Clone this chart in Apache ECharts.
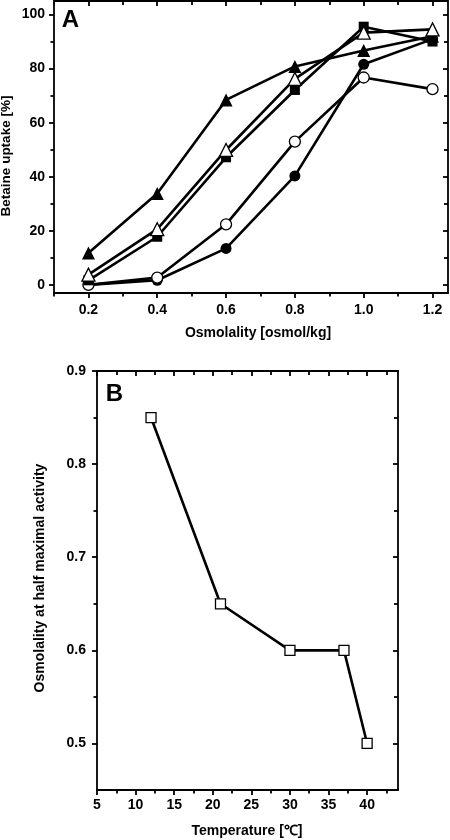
<!DOCTYPE html>
<html><head><meta charset="utf-8">
<script src="https://cdn.jsdelivr.net/npm/echarts@6/dist/echarts.min.js"></script>
<style>html,body{margin:0;padding:0;background:#fff}#c{width:450px;height:840px}</style>
</head><body><div id="c"></div>
<script>
// ---- Panel A data ----
const osmolality = [0.2, 0.4, 0.6, 0.8, 1.0, 1.2];
const filledTriangle = [11.8, 33.8, 68.4, 80.8, 86.7, 92.0];
const filledSquare = [1.7, 17.8, 47.2, 72.1, 95.5, 90.0];
const openTriangle = [3.8, 20.6, 49.9, 76.2, 93.3, 94.5];
const openCircle = [0.0, 2.7, 22.4, 53.0, 76.7, 72.4];
const filledCircle = [0.0, 1.7, 13.5, 40.3, 81.6, 90.9];
const aXMajor = [0.2, 0.4, 0.6, 0.8, 1.0, 1.2];
const aXMinor = [0.1, 0.3, 0.5, 0.7, 0.9, 1.1];
const aYMajor = [0, 20, 40, 60, 80, 100];
const aYMinor = [10, 30, 50, 70, 90];
// ---- Panel B data ----
const temperature = [12, 21, 30, 37, 40];
const halfMaxOsmolality = [0.85, 0.65, 0.60, 0.60, 0.50];
const bXMajor = [5, 10, 15, 20, 25, 30, 35, 40];
const bXMinor = [7.5, 12.5, 17.5, 22.5, 27.5, 32.5, 37.5, 42.5];
const bYMajor = [0.5, 0.6, 0.7, 0.8, 0.9];
const bYMinor = [0.55, 0.65, 0.75, 0.85];

const FONT = '"Liberation Sans", Arial, Helvetica, sans-serif';
const lineStyle = {color: '#000', width: 1.8};

function axisSet(kind, grid, min, max, major, minor, fmt, margin) {
  const isX = kind === 'x';
  const mainPos = isX ? 'bottom' : 'left';
  const oppPos = isX ? 'top' : 'right';
  const base = {type: 'value', gridIndex: grid, min: min, max: max, scale: true,
    splitLine: {show: false}};
  return [
    Object.assign({}, base, {position: mainPos,
      axisLine: {show: true, onZero: false, lineStyle: lineStyle},
      axisTick: {show: true, inside: false, length: 5, customValues: major, lineStyle: lineStyle},
      axisLabel: {show: true, customValues: major, formatter: fmt, margin: margin,
        fontFamily: FONT, fontWeight: 'bold', fontSize: 14, color: '#000'}}),
    Object.assign({}, base, {position: mainPos,
      axisLine: {show: false, onZero: false},
      axisTick: {show: true, inside: false, length: 3.5, customValues: minor, lineStyle: lineStyle},
      axisLabel: {show: false}}),
    Object.assign({}, base, {position: oppPos,
      axisLine: {show: true, onZero: false, lineStyle: lineStyle},
      axisTick: {show: true, inside: true, length: 5, customValues: major, lineStyle: lineStyle},
      axisLabel: {show: false}}),
    Object.assign({}, base, {position: oppPos,
      axisLine: {show: false, onZero: false},
      axisTick: {show: true, inside: true, length: 4, customValues: minor, lineStyle: lineStyle},
      axisLabel: {show: false}})
  ];
}

const xAxes = [].concat(
  axisSet('x', 0, 0.1, 1.245, aXMajor, aXMinor, v => v.toFixed(1), 10),
  axisSet('x', 1, 5, 44, bXMajor, bXMinor, v => String(v), 8)
);
const yAxes = [].concat(
  axisSet('y', 0, -3, 105, aYMajor, aYMinor, v => String(v), 9),
  axisSet('y', 1, 0.45, 0.9, bYMajor, bYMinor, v => v.toFixed(1), 11)
);

function mk(name, xs, ys, symbol, size, filled, xi, yi) {
  return {
    name: name, type: 'line', xAxisIndex: xi, yAxisIndex: yi,
    data: xs.map((x, i) => [x, ys[i]]),
    symbol: symbol, symbolSize: size, showAllSymbol: true,
    lineStyle: {color: '#000', width: 2.6},
    itemStyle: {color: filled ? '#000' : '#fff', borderColor: '#000', borderWidth: filled ? 0 : 1.3},
    animation: false, z: 3
  };
}

const series = [
  mk('filled circle', osmolality, filledCircle, 'circle', 11, true, 0, 0),
  mk('open circle', osmolality, openCircle, 'circle', 11, false, 0, 0),
  mk('filled triangle', osmolality, filledTriangle, 'triangle', 13, true, 0, 0),
  mk('filled square', osmolality, filledSquare, 'rect', 10, true, 0, 0),
  mk('open triangle', osmolality, openTriangle, 'triangle', 13, false, 0, 0),
  mk('B', temperature, halfMaxOsmolality, 'rect', 10, false, 4, 4)
];

const txt = (x, y, text, size, extra) => Object.assign({
  type: 'text', x: x, y: y, silent: true,
  style: {text: text, fontFamily: FONT, fontWeight: 'bold', fontSize: size, fill: '#000',
    textAlign: 'center', textVerticalAlign: 'middle'}
}, extra || {});

const chart = echarts.init(document.getElementById('c'), null, {renderer: 'canvas'});
chart.setOption({
  animation: false,
  backgroundColor: '#fff',
  grid: [
    {left: 54, top: 1, width: 394, height: 292, containLabel: false},
    {left: 97, top: 371, width: 301, height: 419, containLabel: false}
  ],
  xAxis: xAxes,
  yAxis: yAxes,
  series: series,
  graphic: [
    txt(70.5, 20, 'A', 24),
    txt(114.5, 394, 'B', 24),
    txt(258, 333, 'Osmolality [osmol/kg]', 14),
    txt(247, 831, 'Temperature [\u2103]', 14),
    txt(6.5, 156, 'Betaine uptake [%]', 13.5, {rotation: Math.PI / 2}),
    txt(40, 578, 'Osmolality at half maximal activity', 14, {rotation: Math.PI / 2})
  ]
});
</script>
</body></html>
